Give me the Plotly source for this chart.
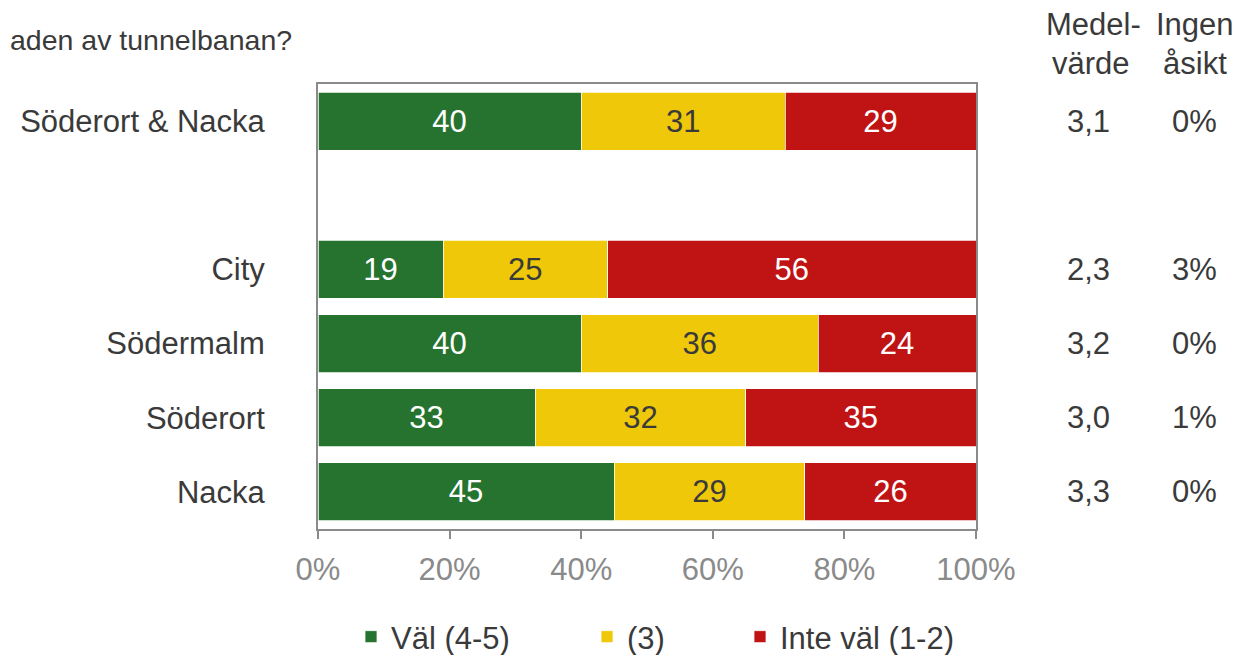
import plotly.graph_objects as go

categories = ["Söderort & Nacka", " ", "City", "Södermalm", "Söderort", "Nacka"]
val_4_5 = [40, None, 19, 40, 33, 45]
val_3 = [31, None, 25, 36, 32, 29]
val_1_2 = [29, None, 56, 24, 35, 26]
medelvarde = ["3,1", "", "2,3", "3,2", "3,0", "3,3"]
ingen_asikt = ["0%", "", "3%", "0%", "1%", "0%"]
series_names = ["Väl (4-5)", "(3)", "Inte väl (1-2)"]
tick_vals = [0, 20, 40, 60, 80, 100]
tick_text = ["0%", "20%", "40%", "60%", "80%", "100%"]
colors = ["#26732F", "#F0C80A", "#C01414"]
text_colors = ["white", "#3a3a3a", "white"]

FONT = "Liberation Sans, Arial, sans-serif"
TXT = "#3a3a3a"
FS = 31
fig = go.Figure()
for i, (name, vals) in enumerate(zip(series_names, [val_4_5, val_3, val_1_2])):
    fig.add_trace(go.Bar(
        y=categories, x=vals, name=name, orientation="h",
        marker=dict(color=colors[i], line=dict(color="white", width=0.75)),
        text=[("" if v is None else str(v)) for v in vals],
        textposition="inside", insidetextanchor="middle", textangle=0,
        textfont=dict(color=text_colors[i], size=FS, family=FONT),
        constraintext="none",
        legend=["legend", "legend2", "legend3"][i],
        hoverinfo="skip",
    ))

# page offset of the figure (browser body margin)
OFF = 8
W, H = 1252 - 2 * OFF, 655 - OFF
# plot area in page pixels
L, R, T, B = 318, 976, 84, 529
pw, ph = R - L, B - T

def px(xp):
    return (xp - L) / pw

def py(yp):
    return (B - yp) / ph

annotations = []
annotations.append(dict(text="aden av tunnelbanan?", xref="paper", yref="paper",
                        x=px(OFF), y=py(40), xanchor="left", yanchor="middle",
                        showarrow=False, font=dict(size=28.5, color=TXT, family=FONT)))
header_lines = [("Medel-", 1093, 25), ("värde", 1091, 63), ("Ingen", 1195, 25), ("åsikt", 1195, 63)]
for txt, hx, hy in header_lines:
    annotations.append(dict(text=txt, xref="paper", yref="paper",
                            x=px(hx), y=py(hy), xanchor="center", yanchor="middle",
                            showarrow=False, font=dict(size=FS, color=TXT, family=FONT)))
for c, m, a in zip(categories, medelvarde, ingen_asikt):
    if m:
        annotations.append(dict(text=m, xref="paper", yref="y", x=px(1088), y=c,
                                xanchor="center", yanchor="middle", showarrow=False,
                                font=dict(size=FS, color=TXT, family=FONT)))
        annotations.append(dict(text=a, xref="paper", yref="y", x=px(1194), y=c,
                                xanchor="center", yanchor="middle", showarrow=False,
                                font=dict(size=FS, color=TXT, family=FONT)))

leg_common = dict(orientation="h", yanchor="middle", xanchor="left", y=py(637),
                  font=dict(size=FS, color=TXT, family=FONT),
                  bgcolor="rgba(0,0,0,0)", borderwidth=0)

fig.update_layout(
    width=W, height=H,
    margin=dict(l=L - OFF, r=W - (R - OFF), t=T - OFF, b=H - (B - OFF), pad=0,
                autoexpand=False),
    barmode="stack", bargap=0.22,
    plot_bgcolor="white", paper_bgcolor="white",
    font=dict(family=FONT, size=FS, color=TXT),
    xaxis=dict(range=[0, 100], tickvals=tick_vals, ticktext=tick_text,
               showgrid=False, zeroline=False, showline=True, linecolor="#8A8A8A",
               linewidth=2, mirror=True, ticks="outside", ticklen=8, tickwidth=2,
               tickcolor="#8A8A8A", ticklabelstandoff=4,
               tickfont=dict(size=FS, color="#8A8A8A", family=FONT),
               fixedrange=True, automargin=False),
    yaxis=dict(categoryorder="array", categoryarray=categories, autorange="reversed",
               showgrid=False, zeroline=False, showline=True, linecolor="#8A8A8A",
               linewidth=2, mirror=True, ticks="", ticklabelstandoff=45,
               tickfont=dict(size=FS, color=TXT, family=FONT), fixedrange=True,
               automargin=False),
    legend=dict(x=px(351), **leg_common),
    legend2=dict(x=px(587), **leg_common),
    legend3=dict(x=px(740), **leg_common),
    annotations=annotations,
    showlegend=True,
)

fig.write_html("out.html")
